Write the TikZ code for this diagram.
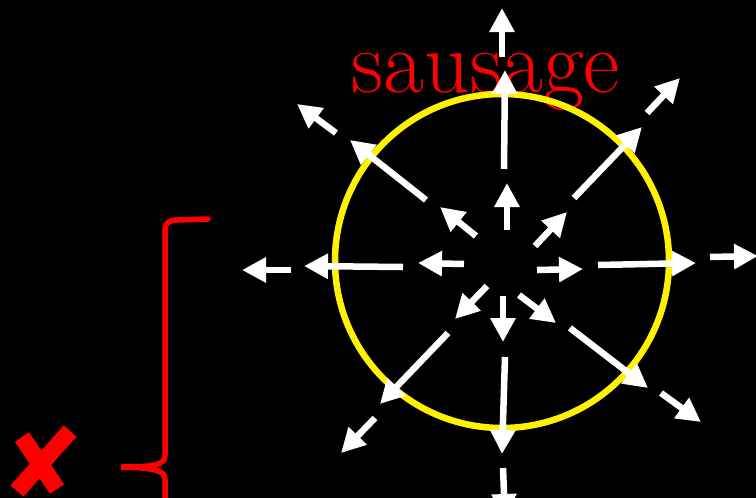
\documentclass[tikz,border=0pt]{standalone}
\usepackage{fontspec}
\usepackage{tikz}
\usetikzlibrary{arrows.meta, positioning}

\tikzset{
  ray/.style={white, line width=6.5pt, -{Triangle[length=24pt, width=24pt]}},
  skin/.style={yellow, line width=6.5pt},
  mark red/.style={red, line width=17pt},
}

\begin{document}
\begin{tikzpicture}[x=1pt, y=-1pt]
  \fill[black] (0,0) rectangle (756,498);
  \useasboundingbox (0,0) rectangle (756,498);

  % the word and the sausage skin
  \node[red, font=\fontsize{89}{96}\selectfont, anchor=base] (word) at (486,92) {sausage};
  \coordinate (C) at (502,261);
  \draw[skin] (C) circle (167);

  % rays: inner, middle, outer for each direction
  \foreach \sx/\sy/\ex/\ey in {
      507/230/507/183, 504/169/505/70,  502/57/502/8,
      503/296/503/342, 505/357/502/454, 503/468/505/518,
      464/264/418/263, 403/267/304/266, 291/270/242/270,
      537/270/583/269, 598/265/696/263, 710/257/758/256,
      476/236/440/207, 426/200/350/140, 336/133/297/104,
      535/246/567/212, 574/198/642/127, 647/113/680/78,
      487/286/455/319, 448/333/380/404, 375/418/341/453,
      519/295/556/323, 570/328/648/388, 661/393/701/422}
    \draw[ray] (\sx,\sy) -- (\ex,\ey);

  % brace
  \coordinate (B1) at (208,219);
  \coordinate (B2) at (121,467);
  \draw[red, line width=5.5pt, line cap=round]
    (B1) -- (177,220) .. controls (169,220) and (165,223) .. (165,231)
    -- (165,455) .. controls (165,464) and (158,467) .. (B2)
    .. controls (158,468) and (165,471) .. (165,480) -- (165,520);

  % cross
  \draw[mark red] (22,437) -- (57,489);
  \draw[mark red] (70,431) -- (17,491);
\end{tikzpicture}
\end{document}
